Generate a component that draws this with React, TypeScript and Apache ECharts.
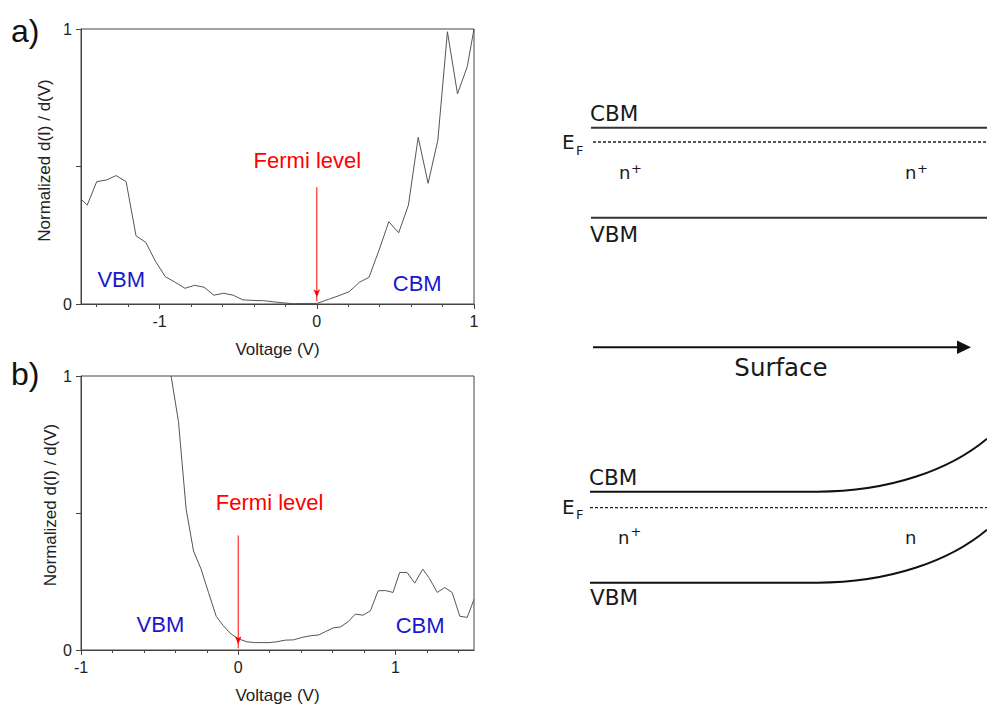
import React, { useEffect, useRef } from "react";
import * as echarts from "echarts";

// ---- data: panel a) ----
const voltageA = [-1.5, -1.46, -1.4, -1.337, -1.277, -1.213, -1.15, -1.088, -1.027, -0.963, -0.906, -0.838, -0.778, -0.717, -0.655, -0.593, -0.532, -0.47, -0.402, -0.339, -0.276, -0.211, -0.148, -0.085, 0.0, 0.075, 0.139, 0.207, 0.271, 0.332, 0.396, 0.458, 0.521, 0.583, 0.645, 0.708, 0.77, 0.831, 0.895, 0.957, 1.0];
const didvA = [0.381, 0.36, 0.445, 0.451, 0.467, 0.445, 0.248, 0.224, 0.156, 0.099, 0.081, 0.057, 0.068, 0.061, 0.032, 0.039, 0.032, 0.015, 0.013, 0.012, 0.008, 0.004, 0.001, 0.002, 0.002, 0.017, 0.03, 0.045, 0.079, 0.097, 0.196, 0.299, 0.259, 0.36, 0.606, 0.439, 0.596, 0.99, 0.764, 0.863, 1.0];

// ---- data: panel b) ----
const voltageB = [-0.427, -0.38, -0.331, -0.284, -0.236, -0.189, -0.14, -0.094, -0.045, 0.004, 0.055, 0.104, 0.15, 0.197, 0.246, 0.299, 0.352, 0.406, 0.459, 0.512, 0.554, 0.607, 0.65, 0.699, 0.745, 0.794, 0.841, 0.89, 0.936, 0.985, 1.027, 1.074, 1.123, 1.174, 1.217, 1.266, 1.314, 1.361, 1.41, 1.457, 1.5];
const didvB = [1.0, 0.834, 0.513, 0.361, 0.295, 0.21, 0.123, 0.088, 0.058, 0.04, 0.03, 0.027, 0.027, 0.027, 0.03, 0.036, 0.037, 0.046, 0.052, 0.055, 0.067, 0.081, 0.084, 0.103, 0.131, 0.127, 0.143, 0.216, 0.217, 0.21, 0.283, 0.283, 0.244, 0.295, 0.261, 0.21, 0.228, 0.21, 0.123, 0.119, 0.185];

// axis ranges and ticks
const xRangeA = [-1.5, 1];
const xRangeB = [-1, 1.5];
const minorTicksA = [-1.4, -1.2, -1, -0.8, -0.6, -0.4, -0.2, 0, 0.2, 0.4, 0.6, 0.8, 1];
const minorTicksB = [-0.8, -0.6, -0.4, -0.2, 0, 0.2, 0.4, 0.6, 0.8, 1, 1.2, 1.4];
const majorTicks = [-1, 0, 1];
const yTicks = [0, 0.5, 1];
const yLabels = [0, 1];

// annotations (data coordinates): Fermi level at V = 0
const fermiVoltage = 0;
const fermiA = { label: [-0.06, 0.522], arrowFrom: 0.425, arrowTo: 0.01 };
const fermiB = { label: [0.2, 0.537], arrowFrom: 0.418, arrowTo: 0.006 };
const bandLabelsA = [{ name: "VBM", coord: [-1.244, 0.089] }, { name: "CBM", coord: [0.639, 0.075] }];
const bandLabelsB = [{ name: "VBM", coord: [-0.495, 0.093] }, { name: "CBM", coord: [1.157, 0.088] }];

const PLOT_FONT = "'Liberation Sans', Arial, sans-serif";
const DIAG_FONT = "'DejaVu Sans', Verdana, sans-serif";
const AXIS_COLOR = "#444";
const TEXT_COLOR = "#222";
const BLUE = "#1818cc";
const RED = "#ff0000";

function App() {
  const ref = useRef<HTMLDivElement>(null);

  useEffect(() => {
    if (!ref.current) return;
    const chart = echarts.init(ref.current, undefined, { renderer: "svg" });

    const grids = [
      { left: 81, top: 29, width: 393, height: 275, show: true, borderColor: AXIS_COLOR, borderWidth: 1, backgroundColor: "transparent" },
      { left: 81, top: 376, width: 393, height: 275, show: true, borderColor: AXIS_COLOR, borderWidth: 1, backgroundColor: "transparent" },
    ];

    const mainX = (gridIndex: number, range: number[], minor: number[]) => ({
      type: "value",
      gridIndex,
      position: "bottom",
      min: range[0],
      max: range[1],
      name: "Voltage (V)",
      nameLocation: "middle",
      nameGap: 37,
      nameTextStyle: { fontFamily: PLOT_FONT, fontSize: 17, color: TEXT_COLOR },
      axisLine: { show: true, onZero: false, lineStyle: { color: AXIS_COLOR, width: 1 } },
      axisTick: { show: true, length: 3, customValues: minor, lineStyle: { color: AXIS_COLOR } },
      axisLabel: { show: false },
      splitLine: { show: false },
    });
    const majorX = (gridIndex: number, range: number[]) => ({
      type: "value",
      gridIndex,
      position: "bottom",
      min: range[0],
      max: range[1],
      axisLine: { show: false, onZero: false },
      axisTick: { show: true, length: 5, customValues: majorTicks, lineStyle: { color: AXIS_COLOR } },
      axisLabel: { show: true, customValues: majorTicks, margin: 9, fontFamily: PLOT_FONT, fontSize: 16, color: TEXT_COLOR },
      splitLine: { show: false },
    });
    const yAx = (gridIndex: number, gap: number, pad: number) => ({
      type: "value",
      gridIndex,
      position: "left",
      min: 0,
      max: 1,
      name: "Normalized d(I) / d(V)",
      nameLocation: "middle",
      nameGap: gap,
      nameTextStyle: { fontFamily: PLOT_FONT, fontSize: 17, color: TEXT_COLOR, padding: [0, 0, 0, pad] },
      axisLine: { show: true, onZero: false, lineStyle: { color: AXIS_COLOR, width: 1 } },
      axisTick: { show: true, length: 5, customValues: yTicks, lineStyle: { color: AXIS_COLOR } },
      axisLabel: { show: true, customValues: yLabels, margin: 9, fontFamily: PLOT_FONT, fontSize: 16, color: TEXT_COLOR },
      splitLine: { show: false },
    });

    const curve = (xs: number[], ys: number[], xIdx: number, yIdx: number, fermi: any, bands: any[]) => ({
      type: "line",
      xAxisIndex: xIdx,
      yAxisIndex: yIdx,
      data: xs.map((x, i) => [x, ys[i]]),
      showSymbol: false,
      symbol: "none",
      clip: true,
      z: 2,
      lineStyle: { color: "#555", width: 1 },
      markPoint: {
        silent: true,
        symbol: "rect",
        symbolSize: 1,
        itemStyle: { color: "rgba(0,0,0,0)" },
        label: { show: true, position: "inside", formatter: "{b}", fontFamily: PLOT_FONT, fontSize: 22 },
        data: [
          { name: "Fermi level", coord: fermi.label, label: { color: RED } },
          ...bands.map((b: any) => ({ name: b.name, coord: b.coord, label: { color: BLUE } })),
        ],
      },
    });

    const arrow = (xIdx: number, yIdx: number, fermi: any) => ({
      type: "line",
      xAxisIndex: xIdx,
      yAxisIndex: yIdx,
      silent: true,
      z: 3,
      showSymbol: true,
      symbol: "none",
      clip: false,
      lineStyle: { color: RED, width: 1 },
      itemStyle: { color: RED },
      data: [
        { value: [fermiVoltage, fermi.arrowFrom], symbol: "none" },
        { value: [fermiVoltage, fermi.arrowTo], symbol: "arrow", symbolSize: [5, 8], symbolRotate: 180, symbolOffset: [0, -4] },
      ],
    });

    // schematic band diagrams
    const txt = (text: string, x: number, y: number, size: number, extra: any = {}) => ({
      type: "text",
      x,
      y,
      silent: true,
      style: { text, fontFamily: DIAG_FONT, fontSize: size, fill: "#1a1a1a", align: "left", verticalAlign: "middle", ...extra },
    });
    const hline = (x1: number, x2: number, y: number, stroke: string, width: number, dash?: number[]) => ({
      type: "line",
      silent: true,
      shape: { x1, y1: y, x2, y2: y },
      style: { stroke, lineWidth: width, lineDash: dash },
    });
    const bend = (y: number, stroke: string) => ({
      type: "bezierCurve",
      silent: true,
      shape: { x1: 817, y1: y, cpx1: 890, cpy1: y, cpx2: 950, cpy2: y - 22, x2: 987, y2: y - 53 },
      style: { stroke, lineWidth: 2, fill: null },
    });

    const graphic = [
      { type: "text", x: 11, y: 31, silent: true, style: { text: "a)", fontFamily: PLOT_FONT, fontSize: 32, fill: "#111", verticalAlign: "middle" } },
      { type: "text", x: 11, y: 374, silent: true, style: { text: "b)", fontFamily: PLOT_FONT, fontSize: 32, fill: "#111", verticalAlign: "middle" } },
      // top diagram
      txt("CBM", 590, 113.5, 21.5),
      hline(591, 987, 127.7, "#333", 2),
      txt("E", 562, 142, 20),
      txt("F", 576, 150, 13),
      hline(593, 987, 142, "#222", 1.3, [3, 2]),
      txt("n", 619, 172, 18),
      txt("+", 631, 168, 13),
      txt("n", 905, 172, 18),
      txt("+", 917, 168, 13),
      hline(591, 987, 217.7, "#333", 2),
      txt("VBM", 590, 234.5, 21.5),
      // surface arrow
      hline(593, 960, 347.3, "#111", 2),
      { type: "polygon", silent: true, shape: { points: [[957, 340.5], [971, 347.3], [957, 354]] }, style: { fill: "#111" } },
      txt("Surface", 781, 367.5, 24.5, { align: "center" }),
      // bottom diagram
      txt("CBM", 589, 477.5, 21.5),
      hline(590, 817, 491.7, "#111", 2),
      bend(491.7, "#111"),
      txt("E", 562, 507, 20),
      txt("F", 576, 514, 13),
      hline(590, 987, 507.7, "#222", 1.3, [3, 2]),
      txt("n", 618, 537, 18),
      txt("+", 630.5, 531, 13),
      txt("n", 905, 537, 18),
      hline(590, 817, 582.7, "#111", 2),
      bend(582.7, "#111"),
      txt("VBM", 590, 597.5, 21.5),
    ];

    chart.setOption({
      animation: false,
      backgroundColor: "#fff",
      grid: grids,
      xAxis: [mainX(0, xRangeA, minorTicksA), majorX(0, xRangeA), mainX(1, xRangeB, minorTicksB), majorX(1, xRangeB)],
      yAxis: [yAx(0, 28, 12), yAx(1, 18, 16)],
      series: [
        curve(voltageA, didvA, 0, 0, fermiA, bandLabelsA),
        arrow(0, 0, fermiA),
        curve(voltageB, didvB, 2, 1, fermiB, bandLabelsB),
        arrow(2, 1, fermiB),
      ],
      graphic,
    });

    return () => chart.dispose();
  }, []);

  return (
    <div
      ref={ref}
      style={{ position: "fixed", left: 0, top: 0, width: 987, height: 705, background: "#fff" }}
    />
  );
}

export default App;
